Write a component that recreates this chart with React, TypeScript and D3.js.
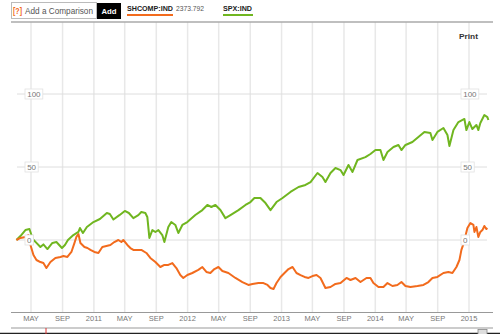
import React from "react";
import * as d3 from "d3";

// Time as decimal years, values as % change from start
const spxT = [2010.173, 2010.216, 2010.269, 2010.312, 2010.349, 2010.387, 2010.429, 2010.461, 2010.504, 2010.557, 2010.600, 2010.659, 2010.691, 2010.723, 2010.781, 2010.835, 2010.851, 2010.883, 2010.925, 2010.995, 2011.064, 2011.138, 2011.170, 2011.208, 2011.272, 2011.330, 2011.373, 2011.421, 2011.474, 2011.506, 2011.549, 2011.570, 2011.592, 2011.624, 2011.656, 2011.688, 2011.730, 2011.752, 2011.794, 2011.826, 2011.869, 2011.901, 2011.944, 2011.997, 2012.082, 2012.157, 2012.210, 2012.253, 2012.296, 2012.349, 2012.402, 2012.456, 2012.541, 2012.616, 2012.669, 2012.711, 2012.775, 2012.829, 2012.882, 2012.946, 2013.010, 2013.095, 2013.181, 2013.255, 2013.309, 2013.383, 2013.436, 2013.468, 2013.522, 2013.575, 2013.629, 2013.661, 2013.714, 2013.757, 2013.810, 2013.895, 2013.948, 2014.002, 2014.055, 2014.087, 2014.130, 2014.194, 2014.247, 2014.279, 2014.322, 2014.396, 2014.460, 2014.524, 2014.588, 2014.610, 2014.663, 2014.727, 2014.770, 2014.791, 2014.834, 2014.887, 2014.951, 2014.972, 2015.004, 2015.036, 2015.079, 2015.100, 2015.121, 2015.164, 2015.196, 2015.207];
const spxV = [0, 2.7, 6.8, 7.5, 0.5, -2, -4.8, -3, -6.2, -2, -1.4, -5.5, -3.4, 0, 3.4, 5.5, 8.2, 4.8, 8.9, 12.3, 14.4, 18.5, 17.8, 14, 17, 19.9, 18.5, 15, 17, 19.2, 18.5, 15.8, 1.4, 6.8, 5.5, 6.8, 3.4, -1.4, 8.9, 12.3, 10.3, 4.8, 10.3, 12.3, 17.1, 20.5, 24, 22.6, 24, 20.5, 15, 17.1, 20.5, 24, 26, 28.8, 28.8, 25.3, 20.5, 26, 28.8, 32.9, 36.3, 37.7, 39.7, 45.9, 43.2, 39.7, 45.9, 49.3, 47.9, 44.5, 51.4, 46.6, 54.8, 56.8, 58.9, 61.6, 61.6, 54.8, 60.3, 63.7, 65.1, 61.6, 65.1, 67.1, 70.5, 74, 73.3, 68.5, 74, 76.7, 71.9, 64.4, 75.3, 80.8, 82.9, 75.3, 80.8, 76, 78.8, 75.3, 80.1, 85.6, 84.2, 82.2];

const shT = [2010.173, 2010.216, 2010.269, 2010.301, 2010.323, 2010.355, 2010.387, 2010.429, 2010.461, 2010.493, 2010.536, 2010.589, 2010.643, 2010.675, 2010.717, 2010.760, 2010.792, 2010.813, 2010.835, 2010.856, 2010.899, 2010.931, 2010.963, 2011.005, 2011.048, 2011.090, 2011.133, 2011.176, 2011.218, 2011.261, 2011.293, 2011.314, 2011.357, 2011.389, 2011.421, 2011.464, 2011.506, 2011.560, 2011.602, 2011.656, 2011.709, 2011.752, 2011.794, 2011.837, 2011.880, 2011.922, 2011.954, 2011.997, 2012.050, 2012.114, 2012.157, 2012.200, 2012.242, 2012.285, 2012.328, 2012.370, 2012.434, 2012.509, 2012.583, 2012.647, 2012.690, 2012.754, 2012.807, 2012.850, 2012.882, 2012.914, 2012.946, 2012.989, 2013.031, 2013.074, 2013.117, 2013.159, 2013.202, 2013.245, 2013.287, 2013.330, 2013.373, 2013.415, 2013.468, 2013.522, 2013.575, 2013.629, 2013.693, 2013.735, 2013.789, 2013.842, 2013.906, 2013.948, 2013.980, 2014.034, 2014.087, 2014.130, 2014.183, 2014.236, 2014.279, 2014.322, 2014.375, 2014.450, 2014.514, 2014.567, 2014.610, 2014.663, 2014.727, 2014.780, 2014.823, 2014.866, 2014.898, 2014.919, 2014.941, 2014.983, 2015.015, 2015.047, 2015.058, 2015.079, 2015.100, 2015.121, 2015.143, 2015.164, 2015.185, 2015.196];
const shV = [0, 1.4, 2.1, 3.4, -3.4, -10.3, -13.7, -15.1, -15.8, -19.2, -15.1, -12.3, -11.6, -11, -11.6, -8.2, -2.1, 2.1, 4.1, -2.1, -4.8, -5.5, -6.8, -8.2, -8.9, -4.8, -4.1, -3.4, -1.4, 0, -1.4, 0, -3.4, -5.5, -6.8, -6.8, -6.8, -8.9, -12.3, -15.1, -18.5, -17.1, -17.1, -15.8, -19.2, -24, -26, -24, -22.6, -20.5, -18.5, -21.9, -22.6, -19.9, -18.5, -21.2, -22.6, -26, -28.8, -30.8, -30.1, -29.5, -29.5, -30.8, -32.9, -33.6, -29.5, -25.3, -22.6, -19.9, -18.5, -22.6, -24, -25.3, -26, -24.7, -24, -26, -32.9, -32.2, -30.1, -29.5, -26, -27.4, -26, -28.8, -26, -26, -29.5, -32.2, -32.2, -29.5, -31.5, -30.8, -28.8, -31.5, -32.2, -31.5, -30.8, -28.8, -26, -25.3, -22.6, -21.9, -22.6, -18.5, -13.7, -6.8, -2.7, 8.2, 11.6, 10.3, 5.5, 8.9, 2.1, 5.5, 6.8, 9.6, 7.5, 8.2];

const yTicks = [0, 50, 100];
const seriesNames = ["SHCOMP:IND", "SPX:IND"];
const lastPrice = "2373.792";
const ORANGE = "#f26b1d";
const GREEN = "#70b620";

function toDate(t: number): Date {
  const y = Math.floor(t);
  const a = new Date(y, 0, 1).getTime();
  const b = new Date(y + 1, 0, 1).getTime();
  return new Date(a + (t - y) * (b - a));
}

const MONTHS = ["JAN", "FEB", "MAR", "APR", "MAY", "JUN", "JUL", "AUG", "SEP", "OCT", "NOV", "DEC"];

export default function App() {
  const W = 500, H = 334;
  const x = d3.scaleTime().domain([new Date(2010, 4, 1), new Date(2015, 0, 1)]).range([31, 469]);
  const y = d3.scaleLinear().domain([0, 100]).range([240, 94]);
  const line = d3.line<[number, number]>().x(d => x(toDate(d[0]))).y(d => y(d[1])).curve(d3.curveLinear);
  const spx = spxT.map((t, i) => [t, spxV[i]] as [number, number]);
  const sh = shT.map((t, i) => [t, shV[i]] as [number, number]);
  const ticks = x.ticks(d3.timeMonth.every(4) as any);
  const font = "'Liberation Sans', Arial, sans-serif";

  const yLabel = (v: number, xl: number) => {
    const s = String(v);
    const w = s.length * 4.6 + 4;
    return (
      <g key={`${v}-${xl}`}>
        <rect x={xl} y={y(v) - 5} width={w} height={10} fill="#fff" stroke="#e2e2e2" strokeWidth={0.8} />
        <text x={xl + w / 2} y={y(v) + 3} textAnchor="middle" fontSize={8} fill="#777" fontFamily={font}>{s}</text>
      </g>
    );
  };

  return (
    <svg width={W} height={H} style={{ position: "absolute", left: 0, top: 0, background: "#fff" }} fontFamily={font}>
      <rect x={0} y={0} width={W} height={H} fill="#fff" />
      {ticks.map((d, i) => (
        <line key={i} x1={x(d)} x2={x(d)} y1={22} y2={312} stroke="#e8e8e8" strokeWidth={1.5} />
      ))}
      {yTicks.map(v => (
        <line key={v} x1={17} x2={487} y1={y(v)} y2={y(v)} stroke="#dedede" strokeWidth={1} />
      ))}
      <line x1={11} x2={493} y1={22} y2={22} stroke="#aaa" strokeWidth={1.5} />
      <rect x={11.5} y={2.5} width={85} height={16} fill="#fff" stroke="#bbb" strokeWidth={1} />
      <text x={13} y={14} fontSize={8.5} fill={ORANGE} fontWeight="bold" textLength={9} lengthAdjust="spacingAndGlyphs">[?]</text>
      <text x={25} y={14} fontSize={9} fill="#555" textLength={68} lengthAdjust="spacingAndGlyphs">Add a Comparison</text>
      <rect x={97} y={3} width={24} height={16} fill="#000" />
      <text x={109} y={14} fontSize={8} fill="#fff" fontWeight="bold" textAnchor="middle" textLength={15} lengthAdjust="spacingAndGlyphs">Add</text>
      <text x={127} y={11} fontSize={8} fill="#222" fontWeight="bold" textLength={46} lengthAdjust="spacingAndGlyphs">{seriesNames[0]}</text>
      <rect x={127} y={14} width={46} height={2} fill={ORANGE} />
      <text x={176} y={11} fontSize={8} fill="#555" textLength={28} lengthAdjust="spacingAndGlyphs">{lastPrice}</text>
      <text x={223} y={11} fontSize={8} fill="#222" fontWeight="bold" textLength={29} lengthAdjust="spacingAndGlyphs">{seriesNames[1]}</text>
      <rect x={223} y={14} width={30} height={2} fill={GREEN} />
      <text x={459} y={39} fontSize={8} fill="#333" fontWeight="bold" textLength={19} lengthAdjust="spacingAndGlyphs">Print</text>
      <path d={line(spx) || ""} fill="none" stroke={GREEN} strokeWidth={2} strokeLinejoin="round" />
      <path d={line(sh) || ""} fill="none" stroke={ORANGE} strokeWidth={2} strokeLinejoin="round" />
      {yTicks.map(v => yLabel(v, 25))}
      {yTicks.map(v => yLabel(v, 461))}
      <line x1={11} x2={493} y1={312.5} y2={312.5} stroke="#999" strokeWidth={1} />
      {ticks.map((d, i) => (
        <text key={i} x={x(d)} y={321} textAnchor="middle" fontSize={7.5} fill="#777">
          {d.getMonth() === 0 ? String(d.getFullYear()) : MONTHS[d.getMonth()]}
        </text>
      ))}
      <line x1={11} x2={493} y1={328} y2={328} stroke="#999" strokeWidth={1} />
      <line x1={0} x2={500} y1={333.5} y2={333.5} stroke="#222" strokeWidth={1.5} />
      <line x1={46} x2={46} y1={328} y2={334} stroke="#d33" strokeWidth={1} />
      <rect x={478} y={329.5} width={9} height={5} fill="#ddd" stroke="#888" strokeWidth={0.8} />
    </svg>
  );
}
